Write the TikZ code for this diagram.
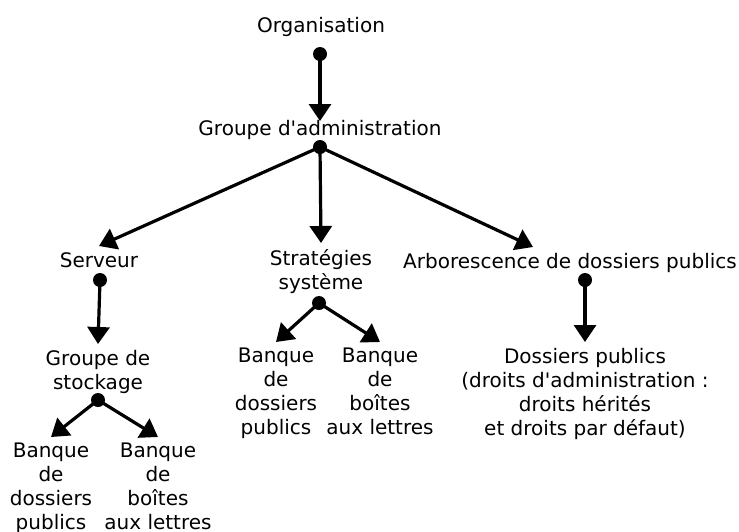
\documentclass[tikz,border=0pt]{standalone}
\usepackage{fontspec}
\setmainfont{DejaVu Sans}
\usetikzlibrary{positioning, arrows.meta}

\begin{document}
\begin{tikzpicture}[x=1pt, y=1pt, every node/.style={inner xsep=3pt, inner ysep=6pt},
    lbl/.style={font=\fontsize{20}{24}\selectfont, align=center, anchor=north},
    dot/.style={circle, fill=black, minimum size=14pt, inner sep=0pt},
    arr/.style={-{Triangle[width=22pt,length=17pt]}, line width=3.2pt}]
  \useasboundingbox (0,0) rectangle (739,-531);
  % texts
  \node[lbl] (org) at (321,-11) {Organisation};
  \node[lbl] (adm) at (320,-114) {Groupe d\textquotesingle administration};
  \node[lbl] (srv) at (99,-246) {Serveur};
  \node[lbl] (strat) at (321,-243) {Stratégies\\système};
  \node[lbl] (arb) at (570,-247) {Arborescence de dossiers publics};
  \node[lbl] (stock) at (98,-344) {Groupe de\\stockage};
  \node[lbl] (bq1) at (51,-437) {Banque\\de\\dossiers\\publics};
  \node[lbl] (bq2) at (158,-437) {Banque\\de\\boîtes\\aux lettres};
  \node[lbl] (bq3) at (276,-342) {Banque\\de\\dossiers\\publics};
  \node[lbl] (bq4) at (380,-342) {Banque\\de\\boîtes\\aux lettres};
  \node[lbl] (pub) at (585,-342) {Dossiers publics\\(droits d\textquotesingle administration :\\droits hérités\\et droits par défaut)};
  % dots
  \node[dot] (d0) at (320,-54) {};
  \node[dot] (d1) at (320,-147) {};
  \node[dot] (d2) at (100,-280) {};
  \node[dot] (d3) at (98,-400) {};
  \node[dot] (d4) at (319,-303) {};
  \node[dot] (d5) at (585,-280) {};
  % arrows
  \draw[arr, shorten >=-7pt] (d0.center) -- (adm.north);
  \draw[arr] (d1.center) -- (srv.north);
  \draw[arr] (d1.center) -- (strat.north);
  \draw[arr] (d1.center) -- ([xshift=-37pt]arb.north);
  \draw[arr] (d2.center) -- (stock.north);
  \draw[arr] (d3.center) -- (bq1.north);
  \draw[arr] (d3.center) -- (bq2.north);
  \draw[arr] (d4.center) -- (bq3.north);
  \draw[arr] (d4.center) -- (bq4.north);
  \draw[arr] (d5.center) -- (pub.north);
\end{tikzpicture}
\end{document}
